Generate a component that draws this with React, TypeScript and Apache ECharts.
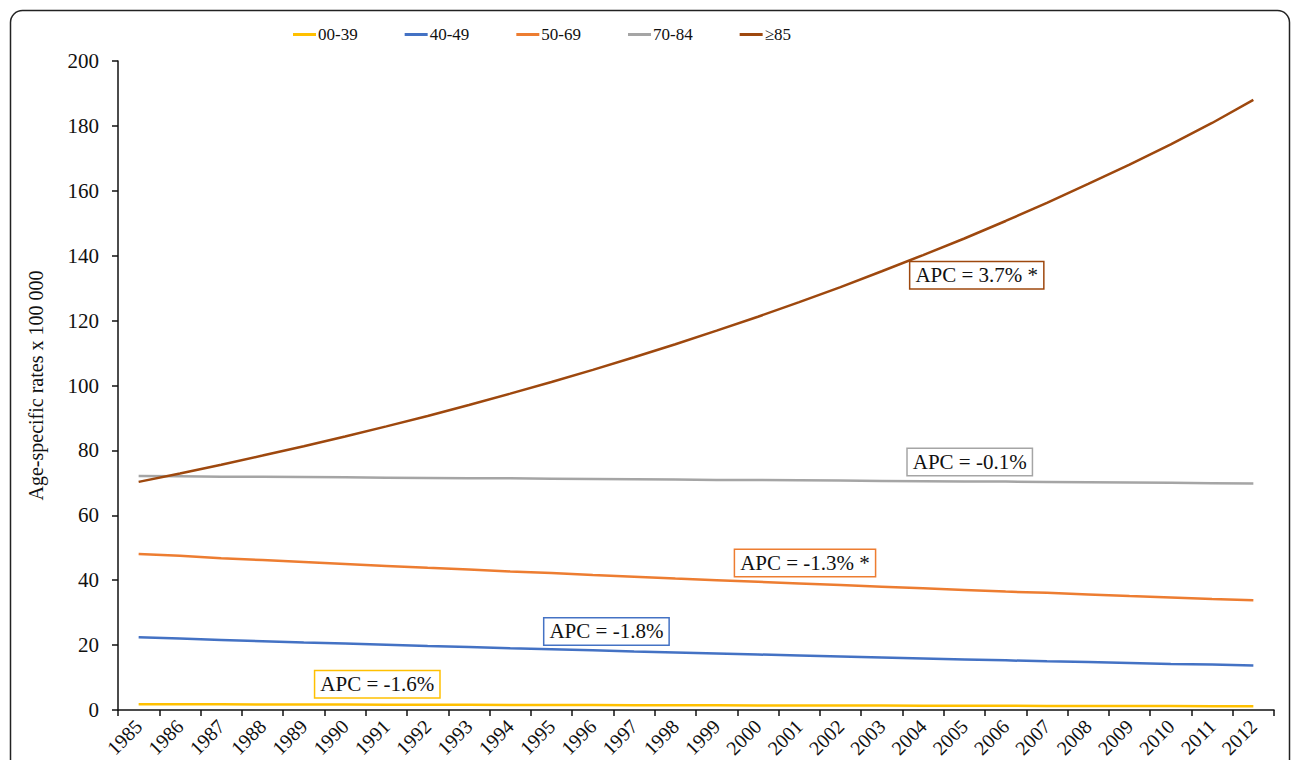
import React, { useEffect, useRef } from "react";
import * as echarts from "echarts";

const years = [
  "1985", "1986", "1987", "1988", "1989", "1990", "1991", "1992", "1993", "1994",
  "1995", "1996", "1997", "1998", "1999", "2000", "2001", "2002", "2003", "2004",
  "2005", "2006", "2007", "2008", "2009", "2010", "2011", "2012",
];

const age00_39 = [
  1.8, 1.77, 1.74, 1.71, 1.69, 1.66, 1.63, 1.61, 1.58, 1.56, 1.53, 1.51, 1.48, 1.46,
  1.44, 1.41, 1.39, 1.37, 1.35, 1.32, 1.3, 1.28, 1.26, 1.24, 1.22, 1.2, 1.18, 1.16,
];
const age40_49 = [
  22.4, 22.0, 21.6, 21.2, 20.8, 20.5, 20.1, 19.7, 19.4, 19.0, 18.7, 18.4, 18.0, 17.7,
  17.4, 17.1, 16.8, 16.5, 16.2, 15.9, 15.6, 15.3, 15.0, 14.8, 14.5, 14.2, 14.0, 13.7,
];
const age50_69 = [
  48.1, 47.5, 46.8, 46.2, 45.6, 45.0, 44.4, 43.8, 43.3, 42.7, 42.2, 41.6, 41.1, 40.5,
  40.0, 39.5, 39.0, 38.5, 38.0, 37.5, 37.0, 36.5, 36.1, 35.6, 35.1, 34.7, 34.2, 33.8,
];
const age70_84 = [
  72.1, 72.0, 71.9, 71.9, 71.8, 71.7, 71.6, 71.5, 71.4, 71.4, 71.3, 71.2, 71.1, 71.0,
  70.9, 70.9, 70.8, 70.7, 70.6, 70.5, 70.4, 70.4, 70.3, 70.2, 70.1, 70.0, 69.9, 69.8,
];
const age85plus = [
  70.3, 72.9, 75.6, 78.4, 81.3, 84.3, 87.4, 90.6, 94.0, 97.5, 101.1, 104.8, 108.7, 112.7,
  116.9, 121.2, 125.7, 130.3, 135.2, 140.2, 145.3, 150.7, 156.3, 162.1, 168.1, 174.3, 180.9, 188.0,
];

const seriesNames = ["00-39", "40-49", "50-69", "70-84", "≥85"];
const seriesColors = ["#FFC000", "#4472C4", "#ED7D31", "#A5A5A5", "#9E480E"];
const seriesData = [age00_39, age40_49, age50_69, age70_84, age85plus];

// annotation labels, anchored on a hidden continuous copy of the year axis
// [year position as fractional category index, rate value]
const apcLabels = ["APC = -1.6%", "APC = -1.8%", "APC = -1.3% *", "APC = -0.1%", "APC = 3.7% *"];
const apcCoords: [number, number][] = [
  [5.78, 7.9],
  [11.33, 24.2],
  [16.14, 45.3],
  [20.13, 76.4],
  [20.3, 134.0],
];

const FONT = "Liberation Serif";

export default function App() {
  const ref = useRef<HTMLDivElement>(null);

  useEffect(() => {
    if (!ref.current) return;
    const chart = echarts.init(ref.current, null, { renderer: "svg" });
    chart.setOption({
      animation: false,
      backgroundColor: "#ffffff",
      graphic: [
        {
          type: "rect",
          shape: { x: 10.5, y: 10.5, width: 1279, height: 800, r: 12 },
          style: { fill: "none", stroke: "#222", lineWidth: 1.5 },
          silent: true,
          z: -1,
        },
      ],
      legend: {
        top: 21,
        left: 288,
        itemWidth: 23,
        itemHeight: 3,
        itemGap: 47,
        icon: "rect",
        textStyle: { fontFamily: FONT, fontSize: 17, color: "#111", padding: [0, 0, 0, -3] },
        data: seriesNames,
      },
      grid: {
        left: 118,
        right: 18,
        top: 61,
        bottom: 50,
        containLabel: false,
        outerBoundsMode: "none",
      },
      xAxis: [
        {
          type: "category",
          data: years,
          boundaryGap: true,
          axisLine: { onZero: false, lineStyle: { color: "#111", width: 1.5 } },
          axisTick: { show: true, length: 6, lineStyle: { color: "#111", width: 1.5 } },
          axisLabel: {
            rotate: 45,
            interval: 0,
            margin: 13,
            fontFamily: FONT,
            fontSize: 20,
            color: "#111",
          },
        },
        {
          type: "value",
          show: false,
          min: -0.5,
          max: years.length - 0.5,
          axisLine: { onZero: false },
        },
      ],
      yAxis: {
        type: "value",
        min: 0,
        max: 200,
        interval: 20,
        name: "Age-specific rates x 100 000",
        nameLocation: "middle",
        nameGap: 72,
        nameTextStyle: { fontFamily: FONT, fontSize: 20, color: "#111" },
        axisLine: { show: true, onZero: false, lineStyle: { color: "#111", width: 1.5 } },
        axisTick: { show: true, length: 6, lineStyle: { color: "#111", width: 1.5 } },
        splitLine: { show: false },
        axisLabel: { fontFamily: FONT, fontSize: 21, color: "#111", margin: 19 },
      },
      series: [
        ...seriesNames.map((name, i) => ({
          name,
          type: "line",
          data: seriesData[i],
          symbol: "none",
          smooth: false,
          lineStyle: { color: seriesColors[i], width: 2.5 },
          itemStyle: { color: seriesColors[i] },
          z: i === 4 ? 3 : 2,
        })),
        {
          name: "APC",
          type: "scatter",
          xAxisIndex: 1,
          symbolSize: 0,
          silent: true,
          z: 5,
          itemStyle: { opacity: 1 },
          data: apcCoords.map((c, i) => ({
            value: c,
            label: {
              show: true,
              position: "inside",
              formatter: apcLabels[i],
              fontFamily: FONT,
              fontSize: 21,
              color: "#111",
              opacity: 1,
              backgroundColor: "#ffffff",
              borderColor: seriesColors[i],
              borderWidth: 1.5,
              padding: [3, 5, 2, 5],
            },
          })),
        },
      ],
    });
    return () => chart.dispose();
  }, []);

  return (
    <div
      ref={ref}
      style={{ position: "absolute", left: 0, top: 0, width: 1292, height: 760 }}
    />
  );
}
